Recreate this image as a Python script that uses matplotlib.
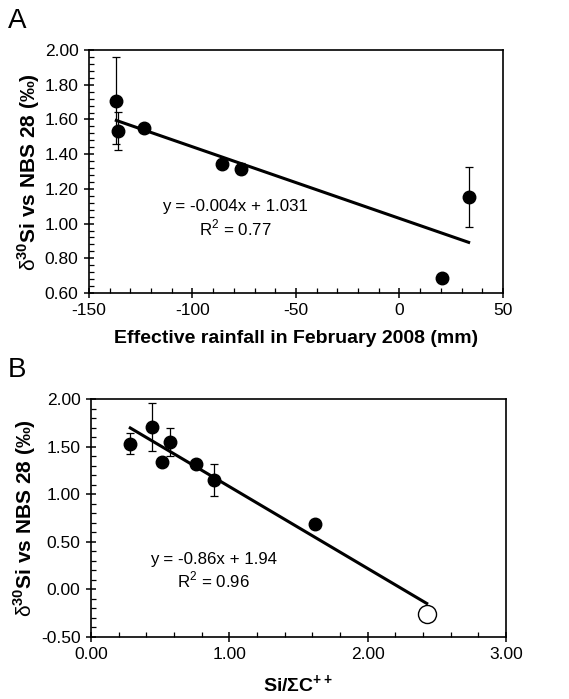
import matplotlib
matplotlib.use('Agg')
import matplotlib.pyplot as plt
import numpy as np
from matplotlib.ticker import MultipleLocator, FormatStrFormatter

plt.rcParams['font.family'] = ['Liberation Sans', 'DejaVu Sans']
plt.rcParams['mathtext.fontset'] = 'custom'
plt.rcParams['mathtext.rm'] = 'Liberation Sans'
plt.rcParams['mathtext.bf'] = 'Liberation Sans:bold'
plt.rcParams['axes.unicode_minus'] = False

# panel A: effective rainfall vs d30Si
rain = [-136.8, -136.1, -123.5, -85.6, -76.5, 20.6, 33.4]
si_a = [1.708, 1.533, 1.552, 1.342, 1.317, 0.685, 1.154]
err_a = [0.25, 0.11, 0.01, 0.01, 0.03, 0.0, 0.175]

# panel B: Si/sum cations vs d30Si
ratio = [0.284, 0.441, 0.513, 0.573, 0.761, 0.891, 1.618]
si_b = [1.528, 1.703, 1.343, 1.549, 1.318, 1.150, 0.682]
err_b = [0.11, 0.25, 0.0, 0.145, 0.01, 0.17, 0.0]
open_x = [2.427]
open_y = [-0.255]
fit_b = (-0.86, 1.94)

ylab = r'$\mathrm{\delta}^{\mathbf{30}}$Si vs NBS 28 (‰)'

fig = plt.figure(figsize=(5.69, 6.99), dpi=100)
axA = fig.add_axes([0.1564, 0.5808, 0.7276, 0.3476])
axB = fig.add_axes([0.1599, 0.0887, 0.7293, 0.3405])


def style(ax):
    for s in ax.spines.values():
        s.set_linewidth(1.2)
    ax.tick_params(which='major', direction='inout', length=7, width=1.1,
                   labelsize=12.5, pad=4)
    ax.tick_params(which='minor', direction='in', length=3.5, width=0.9)
    ax.tick_params(top=False, right=False, which='both')


# A
axA.errorbar(rain, si_a, yerr=err_a, fmt='o', color='black', ms=9,
             ecolor='black', elinewidth=0.9, capsize=3, capthick=0.9, zorder=3)
xa = np.array([min(rain), max(rain)])
coef_a = np.polyfit(rain, si_a, 1)
axA.plot(xa, np.polyval(coef_a, xa), color='black', lw=2.2, zorder=2)
axA.set_xlim(-150, 50)
axA.set_ylim(0.6, 2.0)
axA.xaxis.set_major_locator(MultipleLocator(50))
axA.xaxis.set_minor_locator(MultipleLocator(10))
axA.yaxis.set_major_locator(MultipleLocator(0.2))
axA.yaxis.set_minor_locator(MultipleLocator(0.04))
axA.yaxis.set_major_formatter(FormatStrFormatter('%.2f'))
style(axA)
axA.set_xlabel('Effective rainfall in February 2008 (mm)', fontsize=14,
               fontweight='bold', labelpad=8)
axA.set_ylabel(ylab, fontsize=15, fontweight='bold', labelpad=2)
axA.text(-79.5, 1.096, 'y = -0.004x + 1.031', ha='center', va='center', fontsize=12.2)
axA.text(-79.5, 0.975, r'R$^2$ = 0.77', ha='center', va='center', fontsize=12.2)

# B
axB.errorbar(ratio, si_b, yerr=err_b, fmt='o', color='black', ms=9,
             ecolor='black', elinewidth=0.9, capsize=3, capthick=0.9, zorder=3)
xb = np.array([min(ratio), open_x[0]])
axB.plot(xb, fit_b[0] * xb + fit_b[1], color='black', lw=2.2, zorder=2)
axB.plot(open_x, open_y, 'o', ms=13, mfc='white', mec='black', mew=1.0, zorder=4)
axB.set_xlim(0, 3)
axB.set_ylim(-0.5, 2.0)
axB.xaxis.set_major_locator(MultipleLocator(1.0))
axB.xaxis.set_minor_locator(MultipleLocator(0.2))
axB.yaxis.set_major_locator(MultipleLocator(0.5))
axB.yaxis.set_minor_locator(MultipleLocator(0.1))
axB.xaxis.set_major_formatter(FormatStrFormatter('%.2f'))
axB.yaxis.set_major_formatter(FormatStrFormatter('%.2f'))
style(axB)
axB.set_xlabel(r'Si/ΣC$^{\mathbf{++}}$', fontsize=14, fontweight='bold', labelpad=8)
axB.set_ylabel(ylab, fontsize=15, fontweight='bold', labelpad=2)
axB.text(0.886, 0.318, 'y = -0.86x + 1.94', ha='center', va='center', fontsize=12.2)
axB.text(0.886, 0.101, r'R$^2$ = 0.96', ha='center', va='center', fontsize=12.2)

fig.text(8 / 569, 1 - 21 / 699, 'A', fontsize=20, ha='left', va='center')
fig.text(8 / 569, 1 - 370 / 699, 'B', fontsize=20, ha='left', va='center')

fig.savefig('out.png', dpi=100)
